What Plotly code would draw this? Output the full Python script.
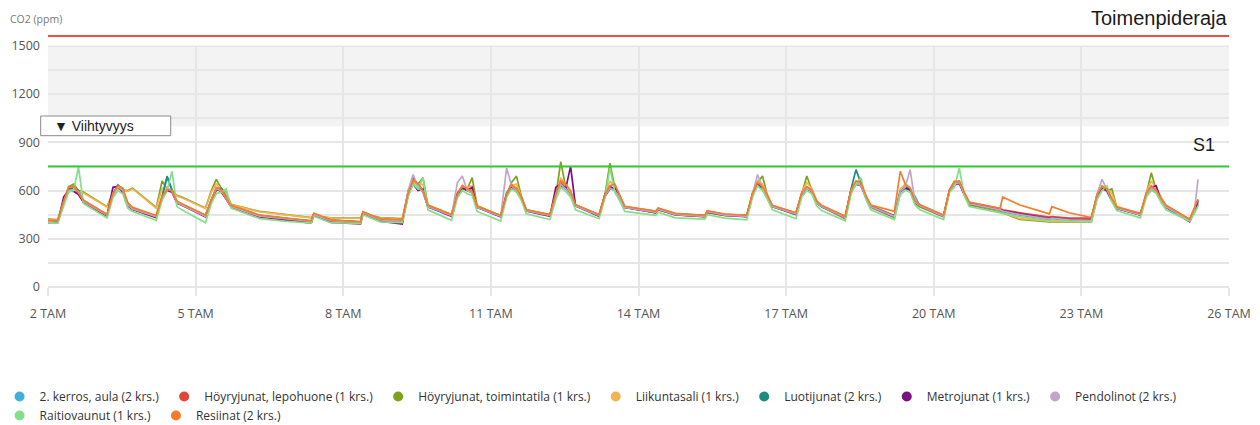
import pandas as pd
import plotly.graph_objects as go

# ---------------- data ----------------
start_date = "2023-01-02"
# sample times, fractional days since 2 Jan 00:00
t_days = [
    0.00, 0.20, 0.32, 0.42, 0.52, 0.62, 0.72,
    1.20, 1.32, 1.42, 1.52, 1.62, 1.72,
    2.20, 2.32, 2.42, 2.52, 2.62, 2.72,
    3.20, 3.32, 3.42, 3.52, 3.62, 3.72,
    4.30, 4.80, 5.35, 5.40, 5.75, 6.35, 6.40, 6.75,
    7.20, 7.32, 7.42, 7.52, 7.62, 7.72,
    8.20, 8.32, 8.42, 8.52, 8.62, 8.72,
    9.20, 9.32, 9.42, 9.52, 9.62, 9.72,
    10.20, 10.32, 10.42, 10.52, 10.62, 10.72,
    11.20, 11.32, 11.42, 11.52, 11.62, 11.72,
    12.35, 12.40, 12.75, 13.35, 13.40, 13.75,
    14.20, 14.32, 14.42, 14.52, 14.62, 14.72,
    15.20, 15.32, 15.42, 15.52, 15.62, 15.72,
    16.20, 16.32, 16.42, 16.52, 16.62, 16.72,
    17.20, 17.32, 17.42, 17.52, 17.62, 17.72,
    18.20, 18.32, 18.42, 18.52, 18.62, 18.72,
    19.35, 19.40, 19.75, 20.35, 20.40, 20.75,
    21.20, 21.32, 21.42, 21.52, 21.62, 21.72,
    22.20, 22.32, 22.42, 22.52, 22.62, 22.72,
    23.20, 23.30, 23.37,
]

kerros_aula = [
    412, 414, 530, 615, 600, 590, 540,
    450, 575, 625, 600, 520, 490,
    440, 560, 680, 600, 530, 515,
    445, 540, 600, 610, 560, 500,
    440, 425, 410, 450, 415, 405, 465, 420,
    415, 570, 660, 630, 590, 500,
    445, 575, 615, 600, 590, 495,
    440, 580, 630, 600, 560, 475,
    445, 560, 640, 610, 575, 505,
    445, 570, 615, 600, 555, 495,
    465, 485, 450, 440, 470, 448,
    440, 575, 640, 610, 560, 500,
    455, 580, 610, 595, 525, 498,
    432, 595, 650, 630, 560, 500,
    438, 590, 615, 600, 565, 505,
    440, 600, 640, 650, 580, 520,
    480, 472, 452, 422, 428, 418,
    410, 560, 610, 600, 540, 490,
    450, 575, 615, 595, 540, 500,
    418, 470, 520,
]
hoyry_lepohuone = [
    405, 408, 520, 605, 625, 580, 530,
    445, 570, 630, 610, 505, 485,
    436, 555, 610, 595, 525, 512,
    440, 530, 615, 590, 550, 505,
    445, 428, 400, 455, 408, 398, 462, 415,
    405, 580, 670, 640, 600, 505,
    448, 570, 625, 605, 600, 500,
    442, 570, 640, 610, 555, 478,
    448, 570, 650, 620, 590, 510,
    448, 575, 620, 610, 560, 500,
    470, 488, 455, 445, 472, 452,
    445, 580, 650, 620, 565, 505,
    460, 585, 620, 600, 530, 505,
    438, 600, 640, 640, 565, 505,
    445, 600, 620, 610, 525, 510,
    445, 605, 650, 655, 585, 525,
    488, 480, 462, 435, 438, 428,
    428, 565, 620, 605, 545, 495,
    455, 580, 625, 600, 545, 505,
    420, 478, 535,
]
hoyry_toimintatila = [
    422, 420, 540, 625, 640, 600, 590,
    500, 590, 615, 605, 600, 615,
    495, 660, 610, 600, 570, 560,
    492, 600, 670, 615, 585, 515,
    470, 452, 432, 442, 430, 430, 458, 432,
    425, 590, 660, 640, 680, 510,
    450, 585, 630, 610, 680, 505,
    445, 575, 650, 690, 565, 480,
    450, 565, 780, 620, 580, 512,
    450, 575, 770, 615, 560, 498,
    462, 480, 450, 438, 462, 445,
    438, 590, 650, 690, 570, 500,
    450, 590, 690, 605, 530, 500,
    425, 590, 640, 650, 555, 495,
    432, 595, 625, 610, 520, 498,
    436, 600, 645, 655, 575, 510,
    470, 462, 420, 405, 405, 404,
    403, 555, 610, 600, 610, 495,
    448, 580, 710, 605, 545, 498,
    415, 475, 525,
]
liikuntasali = [
    420, 418, 535, 610, 625, 595, 585,
    498, 580, 610, 600, 595, 610,
    490, 615, 620, 595, 565, 555,
    488, 590, 640, 610, 580, 512,
    468, 450, 430, 440, 428, 428, 455, 430,
    420, 585, 650, 635, 640, 505,
    447, 580, 625, 615, 630, 500,
    442, 570, 630, 640, 560, 478,
    447, 565, 680, 630, 585, 510,
    447, 570, 660, 620, 565, 500,
    465, 482, 452, 440, 465, 447,
    440, 585, 660, 640, 575, 505,
    455, 590, 650, 615, 540, 505,
    430, 600, 650, 645, 565, 500,
    440, 610, 640, 615, 530, 505,
    440, 605, 660, 645, 580, 520,
    475, 465, 425, 408, 408, 406,
    405, 560, 630, 615, 580, 500,
    450, 590, 660, 615, 560, 508,
    418, 490, 545,
]
luotijunat = [
    410, 412, 525, 610, 615, 600, 535,
    448, 580, 635, 605, 515, 488,
    442, 565, 690, 605, 528, 512,
    443, 545, 610, 615, 555, 502,
    442, 426, 412, 452, 416, 406, 466, 422,
    412, 575, 680, 630, 595, 502,
    446, 575, 615, 600, 585, 498,
    440, 585, 625, 605, 555, 476,
    446, 565, 630, 615, 570, 506,
    446, 565, 610, 620, 550, 496,
    466, 485, 452, 442, 470, 449,
    442, 578, 640, 615, 562, 502,
    457, 575, 615, 590, 525, 500,
    434, 610, 730, 640, 560, 502,
    440, 592, 620, 605, 530, 505,
    442, 598, 655, 645, 578, 518,
    478, 470, 448, 420, 425, 415,
    412, 570, 625, 595, 535, 490,
    448, 570, 610, 590, 538, 498,
    415, 465, 510,
]
metrojunat = [
    400, 402, 560, 600, 595, 575, 528,
    440, 620, 625, 590, 505, 482,
    432, 555, 600, 590, 520, 508,
    436, 530, 605, 600, 545, 498,
    436, 420, 398, 445, 402, 392, 455, 410,
    392, 600, 640, 600, 610, 498,
    440, 580, 620, 600, 620, 495,
    436, 565, 620, 600, 550, 472,
    440, 620, 640, 610, 750, 505,
    440, 580, 625, 610, 565, 495,
    462, 482, 448, 438, 465, 446,
    438, 575, 645, 615, 560, 500,
    452, 578, 615, 595, 525, 500,
    430, 605, 640, 630, 558, 500,
    436, 595, 615, 605, 525, 505,
    438, 600, 635, 645, 575, 518,
    482, 475, 455, 425, 430, 420,
    418, 575, 615, 600, 538, 488,
    448, 575, 620, 630, 540, 495,
    405, 470, 540,
]
pendolinot = [
    410, 412, 530, 600, 605, 595, 532,
    446, 570, 625, 600, 510, 486,
    438, 555, 615, 595, 525, 510,
    440, 540, 610, 600, 550, 500,
    440, 424, 408, 450, 412, 402, 462, 418,
    410, 600, 700, 620, 590, 500,
    444, 650, 690, 600, 585, 496,
    440, 740, 630, 600, 555, 475,
    444, 560, 640, 610, 570, 505,
    444, 570, 615, 600, 555, 495,
    464, 484, 450, 440, 468, 447,
    440, 580, 700, 615, 560, 500,
    455, 580, 615, 595, 525, 500,
    432, 600, 645, 630, 558, 500,
    438, 595, 620, 730, 528, 505,
    440, 600, 640, 650, 578, 518,
    480, 472, 450, 422, 428, 418,
    415, 580, 670, 605, 540, 490,
    448, 575, 615, 595, 540, 498,
    412, 480, 670,
]
raitiovaunut = [
    400, 398, 505, 590, 600, 745, 520,
    430, 555, 600, 580, 490, 470,
    415, 540, 600, 720, 500, 480,
    400, 520, 580, 590, 610, 490,
    425, 410, 398, 440, 400, 395, 450, 405,
    400, 560, 640, 610, 680, 480,
    415, 555, 600, 580, 570, 470,
    410, 560, 610, 590, 540, 455,
    420, 545, 620, 595, 560, 480,
    425, 555, 740, 590, 535, 470,
    445, 465, 430, 422, 450, 428,
    418, 560, 630, 600, 545, 480,
    425, 560, 600, 580, 505, 475,
    412, 580, 640, 680, 545, 480,
    420, 575, 600, 590, 510, 480,
    420, 590, 620, 740, 570, 500,
    465, 458, 438, 412, 418, 410,
    405, 545, 600, 630, 530, 475,
    430, 560, 600, 585, 525, 480,
    410, 460, 505,
]
resiinat = [
    415, 416, 535, 620, 630, 585, 540,
    452, 585, 630, 615, 525, 495,
    445, 565, 605, 600, 535, 518,
    448, 540, 620, 605, 558, 508,
    448, 430, 412, 460, 418, 405, 468, 424,
    418, 585, 665, 645, 600, 508,
    450, 575, 630, 610, 595, 502,
    445, 575, 635, 615, 560, 480,
    450, 580, 660, 640, 600, 512,
    450, 575, 630, 640, 565, 502,
    472, 492, 458, 446, 475, 454,
    448, 585, 650, 625, 570, 508,
    462, 590, 625, 605, 535, 508,
    440, 605, 660, 650, 570, 510,
    470, 720, 640, 615, 535, 512,
    448, 605, 655, 660, 590, 528,
    490, 560, 510, 455, 500, 462,
    432, 575, 625, 610, 550, 498,
    458, 585, 630, 605, 550, 508,
    422, 490, 545,
]

series_names = [
    "2. kerros, aula (2 krs.)",
    "Höyryjunat, lepohuone (1 krs.)",
    "Höyryjunat, toimintatila (1 krs.)",
    "Liikuntasali (1 krs.)",
    "Luotijunat (2 krs.)",
    "Metrojunat (1 krs.)",
    "Pendolinot (2 krs.)",
    "Raitiovaunut (1 krs.)",
    "Resiinat (2 krs.)",
]
series_values = [kerros_aula, hoyry_lepohuone, hoyry_toimintatila, liikuntasali,
                 luotijunat, metrojunat, pendolinot, raitiovaunut, resiinat]
series_colors = ["#3fb0d8", "#e2443a", "#7fa11b", "#f0b553", "#1d8b81",
                 "#7c0f84", "#c2a4c9", "#84e088", "#f57c2d"]

tick_dates = ["2023-01-02", "2023-01-05", "2023-01-08", "2023-01-11", "2023-01-14",
              "2023-01-17", "2023-01-20", "2023-01-23", "2023-01-26"]
tick_labels = ["2 TAM", "5 TAM", "8 TAM", "11 TAM", "14 TAM",
               "17 TAM", "20 TAM", "23 TAM", "26 TAM"]
y_ticks = [0, 300, 600, 900, 1200, 1500]

s1_limit = 750
action_limit = 1562
comfort_band = [1000, 1500]

# ---------------- figure ----------------
times = pd.Timestamp(start_date) + pd.to_timedelta(t_days, unit="D")

fig = go.Figure()
for name, vals, col in zip(series_names, series_values, series_colors):
    fig.add_trace(go.Scatter(x=times, y=vals, mode="lines", name=name,
                             legendgroup=name, showlegend=False,
                             line=dict(color=col, width=1.7)))
for name, col in zip(series_names, series_colors):
    fig.add_trace(go.Scatter(x=[None], y=[None], mode="markers", name=name,
                             legendgroup=name, showlegend=True,
                             marker=dict(color=col, size=10, symbol="circle")))

grid = "#e6e6e6"
tick_font = dict(family="Open Sans", size=12.5, color="#555")
fig.update_layout(
    width=1260, height=425,
    margin=dict(l=48, r=31, t=33, b=138, autoexpand=False),
    paper_bgcolor="white", plot_bgcolor="white",
    font=dict(family="Open Sans", size=12, color="#555"),
    showlegend=True,
    legend=dict(orientation="h", x=-0.041, xanchor="left", y=-0.563, yanchor="bottom",
                font=dict(family="Open Sans", size=12, color="#333"),
                itemwidth=30, tracegroupgap=0, bgcolor="rgba(0,0,0,0)"),
    xaxis=dict(type="date", range=[tick_dates[0], tick_dates[-1]],
               tickvals=tick_dates, ticktext=tick_labels,
               showgrid=True, gridcolor=grid, gridwidth=2,
               ticks="outside", ticklen=8, tickcolor=grid, tickwidth=2,
               ticklabelstandoff=7, zeroline=False, showline=False,
               tickfont=tick_font),
    yaxis=dict(range=[0, 1580], tickvals=y_ticks,
               showgrid=True, gridcolor=grid, gridwidth=2,
               minor=dict(dtick=150, tick0=0, showgrid=True, gridcolor=grid, gridwidth=2),
               zeroline=True, zerolinecolor=grid, zerolinewidth=2,
               ticks="", ticklabelstandoff=7, showline=False,
               tickfont=tick_font),
)

# comfort band (grey) and cover above 1500
fig.add_shape(type="rect", xref="paper", x0=0, x1=1, yref="y",
              y0=comfort_band[0], y1=comfort_band[1],
              fillcolor="#f3f3f3", line_width=0, layer="below")
fig.add_shape(type="rect", xref="paper", x0=-0.002, x1=1.002, yref="y",
              y0=1502, y1=1580, fillcolor="white", line_width=0, layer="above")
# limit lines
fig.add_shape(type="line", xref="paper", x0=0, x1=1, yref="y",
              y0=action_limit, y1=action_limit, line=dict(color="#e8503f", width=2))
fig.add_shape(type="line", xref="paper", x0=0, x1=1, yref="y",
              y0=s1_limit, y1=s1_limit, line=dict(color="#34cc34", width=2))

fig.add_annotation(text="Toimenpideraja", xref="paper", x=1.001, xanchor="right",
                   yref="paper", y=1.059, yanchor="middle", showarrow=False,
                   font=dict(family="Liberation Sans", size=20, color="#1a1a1a"))
fig.add_annotation(text="S1", xref="paper", x=0.990, xanchor="right",
                   yref="y", y=s1_limit + 132, yanchor="middle", showarrow=False,
                   font=dict(family="Liberation Sans", size=18, color="#1a1a1a"))
fig.add_annotation(text="CO2 (ppm)", xref="paper", x=-0.034, xanchor="left",
                   yref="paper", y=1.055, yanchor="middle", showarrow=False,
                   font=dict(family="Open Sans", size=10.5, color="#777"))

# dropdown-like box
fig.add_shape(type="rect", xref="paper", x0=-0.0062, x1=0.1039, yref="paper",
              y0=0.5957, y1=0.6732, fillcolor="white",
              line=dict(color="#8a8a8a", width=1), layer="above")
fig.add_annotation(text="▼ Viihtyvyys", xref="paper", x=0.0034, xanchor="left",
                   yref="paper", y=0.634, yanchor="middle", showarrow=False,
                   font=dict(family="Liberation Sans", size=14, color="#222"))

fig.write_html("out.html",
               config={"displayModeBar": False},
               post_script="document.body.style.margin='0px';"
                           "document.body.style.overflow='hidden';")
